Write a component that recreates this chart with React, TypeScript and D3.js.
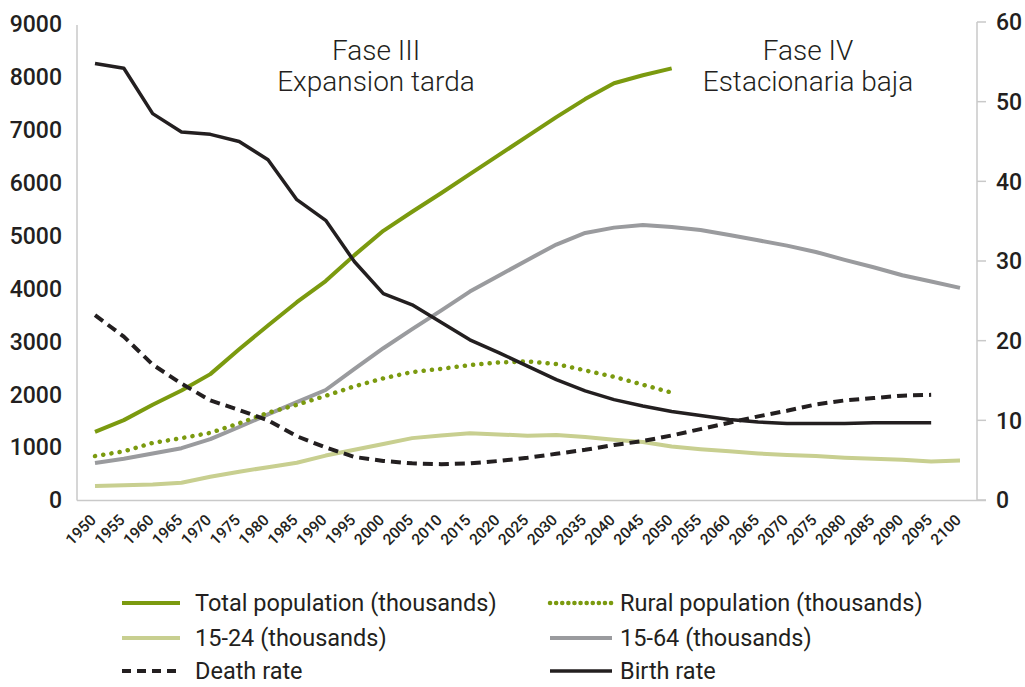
import React from "react";
import * as d3 from "d3";

const years = d3.range(1950, 2101, 5);

const totalPop = [1290, 1510, 1800, 2070, 2380, 2850, 3300, 3740, 4140, 4630, 5090, 5450, 5800, 6160, 6520, 6880, 7240, 7580, 7880, 8030, 8160];
const ruralPop = [830, 920, 1080, 1170, 1270, 1450, 1650, 1800, 1970, 2150, 2300, 2420, 2480, 2550, 2600, 2620, 2570, 2450, 2330, 2180, 2030];
const age1524 = [265, 280, 295, 327, 440, 535, 620, 705, 840, 950, 1060, 1170, 1220, 1260, 1240, 1215, 1230, 1190, 1140, 1095, 1010, 960, 920, 880, 850, 830, 800, 780, 760, 730, 745];
const age1564 = [700, 780, 880, 980, 1150, 1380, 1620, 1850, 2080, 2480, 2870, 3230, 3580, 3940, 4240, 4540, 4830, 5050, 5150, 5200, 5160, 5105, 5010, 4910, 4810, 4690, 4540, 4400, 4250, 4130, 4010];
const deathRate = [23.2, 20.5, 17.0, 14.6, 12.5, 11.3, 10.0, 8.0, 6.6, 5.4, 4.9, 4.6, 4.5, 4.6, 4.9, 5.3, 5.8, 6.3, 6.9, 7.4, 8.1, 8.9, 9.7, 10.5, 11.2, 12.0, 12.5, 12.8, 13.1, 13.2];
const birthRate = [54.8, 54.2, 48.5, 46.2, 45.9, 45.0, 42.7, 37.7, 35.1, 29.9, 25.9, 24.5, 22.3, 20.1, 18.5, 16.8, 15.1, 13.7, 12.6, 11.8, 11.1, 10.6, 10.1, 9.8, 9.6, 9.6, 9.6, 9.7, 9.7, 9.7];

const leftTicks = [0, 1000, 2000, 3000, 4000, 5000, 6000, 7000, 8000, 9000];
const rightTicks = [0, 10, 20, 30, 40, 50, 60];

const INK = "#231f20";
const GREEN = "#7b9a0f";
const LIGHTGREEN = "#c8cf90";
const GRAY = "#9a9b9e";
const AXIS = "#c9c9c9";
const FONT = "Roboto, 'DejaVu Sans', sans-serif";

type Series = {
  label: string;
  values: number[];
  axis: "left" | "right";
  color: string;
  width: number;
  dash?: string;
  cap?: "round" | "butt";
};

const series: Series[] = [
  { label: "15-24 (thousands)", values: age1524, axis: "left", color: LIGHTGREEN, width: 4 },
  { label: "15-64 (thousands)", values: age1564, axis: "left", color: GRAY, width: 4 },
  { label: "Rural population (thousands)", values: ruralPop, axis: "left", color: GREEN, width: 4.5, dash: "0.1,8.2", cap: "round" },
  { label: "Total population (thousands)", values: totalPop, axis: "left", color: GREEN, width: 4 },
  { label: "Death rate", values: deathRate, axis: "right", color: INK, width: 4, dash: "10,6" },
  { label: "Birth rate", values: birthRate, axis: "right", color: INK, width: 3.5 },
];

const legendOrder = [
  "Total population (thousands)",
  "Rural population (thousands)",
  "15-24 (thousands)",
  "15-64 (thousands)",
  "Death rate",
  "Birth rate",
];

export default function App() {
  const W = 1025;
  const H = 687;
  const x = d3.scaleLinear().domain([1950, 2100]).range([95, 960]);
  const yL = d3.scaleLinear().domain([0, 9000]).range([500, 24]);
  const yR = d3.scaleLinear().domain([0, 60]).range([500, 22]);
  const axisLeftX = 77;
  const axisRightX = 977;

  const lineFor = (s: Series) =>
    d3
      .line<number>()
      .x((_, i) => x(years[i]))
      .y((v) => (s.axis === "left" ? yL(v) : yR(v)))(s.values) || "";

  const legendRows = [603, 638, 671];
  const legendCols = [{ x1: 122, x2: 180, tx: 195 }, { x1: 550, x2: 612, tx: 620 }];

  return (
    <svg
      width={W}
      height={H}
      style={{ position: "absolute", left: 0, top: 0, background: "#fff" }}
      fontFamily={FONT}
    >
      {/* axes */}
      <line x1={axisLeftX} x2={axisLeftX} y1={25} y2={500.5} stroke={AXIS} strokeWidth={1.5} />
      <line x1={axisLeftX} x2={986} y1={500.5} y2={500.5} stroke={AXIS} strokeWidth={1.5} />
      <line x1={axisRightX} x2={axisRightX} y1={yR(60)} y2={500.5} stroke={AXIS} strokeWidth={1.5} />
      {rightTicks.map((t) => (
        <line key={"rt" + t} x1={axisRightX} x2={986} y1={yR(t)} y2={yR(t)} stroke={AXIS} strokeWidth={1.5} />
      ))}
      {leftTicks.map((t) => (
        <text key={"lt" + t} x={62} y={yL(t)} dy="0.36em" textAnchor="end" fontSize={23} fontWeight={500} fill={INK}>
          {t}
        </text>
      ))}
      {rightTicks.map((t) => (
        <text key={"rl" + t} x={996} y={yR(t)} dy="0.36em" textAnchor="start" fontSize={23} fontWeight={500} fill={INK}>
          {t}
        </text>
      ))}
      {years.map((yr) => (
        <text
          key={"x" + yr}
          transform={`translate(${x(yr) + 2},${521}) rotate(-45)`}
          textAnchor="end"
          fontSize={15.5}
          fontWeight={500}
          fill={INK}
        >
          {yr}
        </text>
      ))}

      {/* annotations */}
      <text x={376} y={60} textAnchor="middle" fontSize={28} fontWeight={300} fill={INK}>Fase III</text>
      <text x={376} y={91} textAnchor="middle" fontSize={28} fontWeight={300} fill={INK}>Expansion tarda</text>
      <text x={808} y={60} textAnchor="middle" fontSize={28} fontWeight={300} fill={INK}>Fase IV</text>
      <text x={808} y={91} textAnchor="middle" fontSize={28} fontWeight={300} fill={INK}>Estacionaria baja</text>

      {/* series */}
      {series.map((s) => (
        <path
          key={s.label}
          d={lineFor(s)}
          fill="none"
          stroke={s.color}
          strokeWidth={s.width}
          strokeDasharray={s.dash}
          strokeLinecap={s.cap || "butt"}
          strokeLinejoin="round"
        />
      ))}

      {/* legend */}
      {legendOrder.map((name, i) => {
        const s = series.find((q) => q.label === name)!;
        const row = Math.floor(i / 2);
        const col = legendCols[i % 2];
        const ly = legendRows[row];
        return (
          <g key={"lg" + name}>
            <line
              x1={col.x1}
              x2={col.x2}
              y1={ly}
              y2={ly}
              stroke={s.color}
              strokeWidth={s.width}
              strokeDasharray={s.dash ? (s.cap === "round" ? "0.1,6" : "9,6") : undefined}
              strokeLinecap={s.cap || "butt"}
            />
            <text x={col.tx} y={ly} dy="0.33em" fontSize={23.5} fontWeight={400} fill={INK}>
              {name}
            </text>
          </g>
        );
      })}
    </svg>
  );
}
